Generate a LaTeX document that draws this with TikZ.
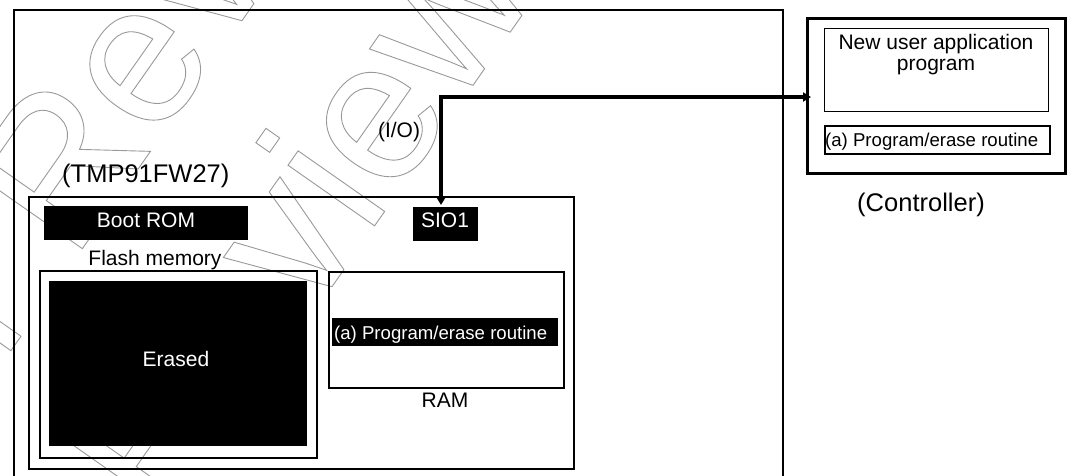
\documentclass[tikz,border=0pt]{standalone}
\usepackage{fontspec}
\setmainfont{Liberation Sans}
\usetikzlibrary{arrows.meta}
\definecolor{wmgray}{gray}{0.6}
\newcommand\wmtext[1]{\special{pdf:literal direct 1 Tr 0.9 w}#1\special{pdf:literal direct 0 Tr}}
\newcommand\fs[1]{\fontsize{#1}{#1}\selectfont}
\begin{document}
\begin{tikzpicture}[x=1pt,y=-1pt,
  frame/.style={draw, line width=#1, inner sep=0pt, anchor=north west},
  blk/.style={fill=black, draw=none, inner sep=0pt, anchor=north west},
  txt/.style={inner sep=0pt, anchor=base, font=\fs{21}},
  wtxt/.style={txt, text=white},
  big/.style={inner sep=0pt, anchor=base, font=\fs{25.5}},
  small/.style={inner sep=0pt, anchor=base west, font=\fs{18.6}},
  wm/.style={inner sep=0pt, anchor=base west, rotate=55, text=wmgray, font=\fs{200}},
  conn/.style={line width=4pt, {Triangle[length=8pt,width=9pt]}-{Triangle[length=8pt,width=9pt]}}
]
\useasboundingbox (0,0) rectangle (1072,475);
% watermark
\node[wm] (wmA) at (73,262) {\wmtext{\llap{Under }Review}};
\node[wm] (wmB) at (163,528) {\wmtext{\llap{Under }Review}};
% device
\node[frame=2.2pt, minimum width=769pt, minimum height=520pt] (tmp) at (13,9) {};
\node[frame=1.6pt, minimum width=545pt, minimum height=272pt] (mcu) at (28,196) {};
\node[big, anchor=base west] (tmplabel) at (62,182) {(TMP91FW27)};
\node[blk, minimum width=204pt, minimum height=34pt] (boot) at (44,206) {};
\node[wtxt] (boottxt) at (146,227) {Boot ROM};
\node[blk, minimum width=65pt, minimum height=34pt] (sio) at (413,207) {};
\node[wtxt] (siotxt) at (445,227) {SIO1};
\node[txt] (flashtxt) at (155,265) {Flash memory};
\node[frame=2pt, minimum width=277pt, minimum height=187pt] (flash) at (39,270) {};
\node[blk, minimum width=258pt, minimum height=165pt] (erased) at (49,281) {};
\node[wtxt] (erasedtxt) at (176,366) {Erased};
\node[frame=2pt, minimum width=235pt, minimum height=116pt] (ram) at (328,271) {};
\node[blk, minimum width=226pt, minimum height=28pt] (ramlbl) at (332,318) {};
\node[small, text=white] (ramlbltxt) at (334,339) {(a) Program/erase routine};
\node[txt] (ramtxt) at (445,407) {RAM};
\node[txt] (io) at (399,137) {(I/O)};
% controller
\node[frame=2.5pt, minimum width=258pt, minimum height=155pt] (ctrl) at (806,17) {};
\node[frame=1.3pt, minimum width=224pt, minimum height=83pt] (newprog) at (824,28) {};
\node[txt] (np1) at (936,49) {New user application};
\node[txt] (np2) at (936,70) {program};
\node[frame=1.5pt, minimum width=225pt, minimum height=28pt] (ctrllbl) at (824,125) {};
\node[small] (ctrllbltxt) at (825,146) {(a) Program/erase routine};
\node[big] (ctrltxt) at (921,211) {(Controller)};
% connector
\coordinate (bend) at (441,97);
\draw[conn, shorten <=2pt, shorten >=-5pt] (bend |- sio.north) -- (bend) -- (bend -| ctrl.west);
\end{tikzpicture}
\end{document}
